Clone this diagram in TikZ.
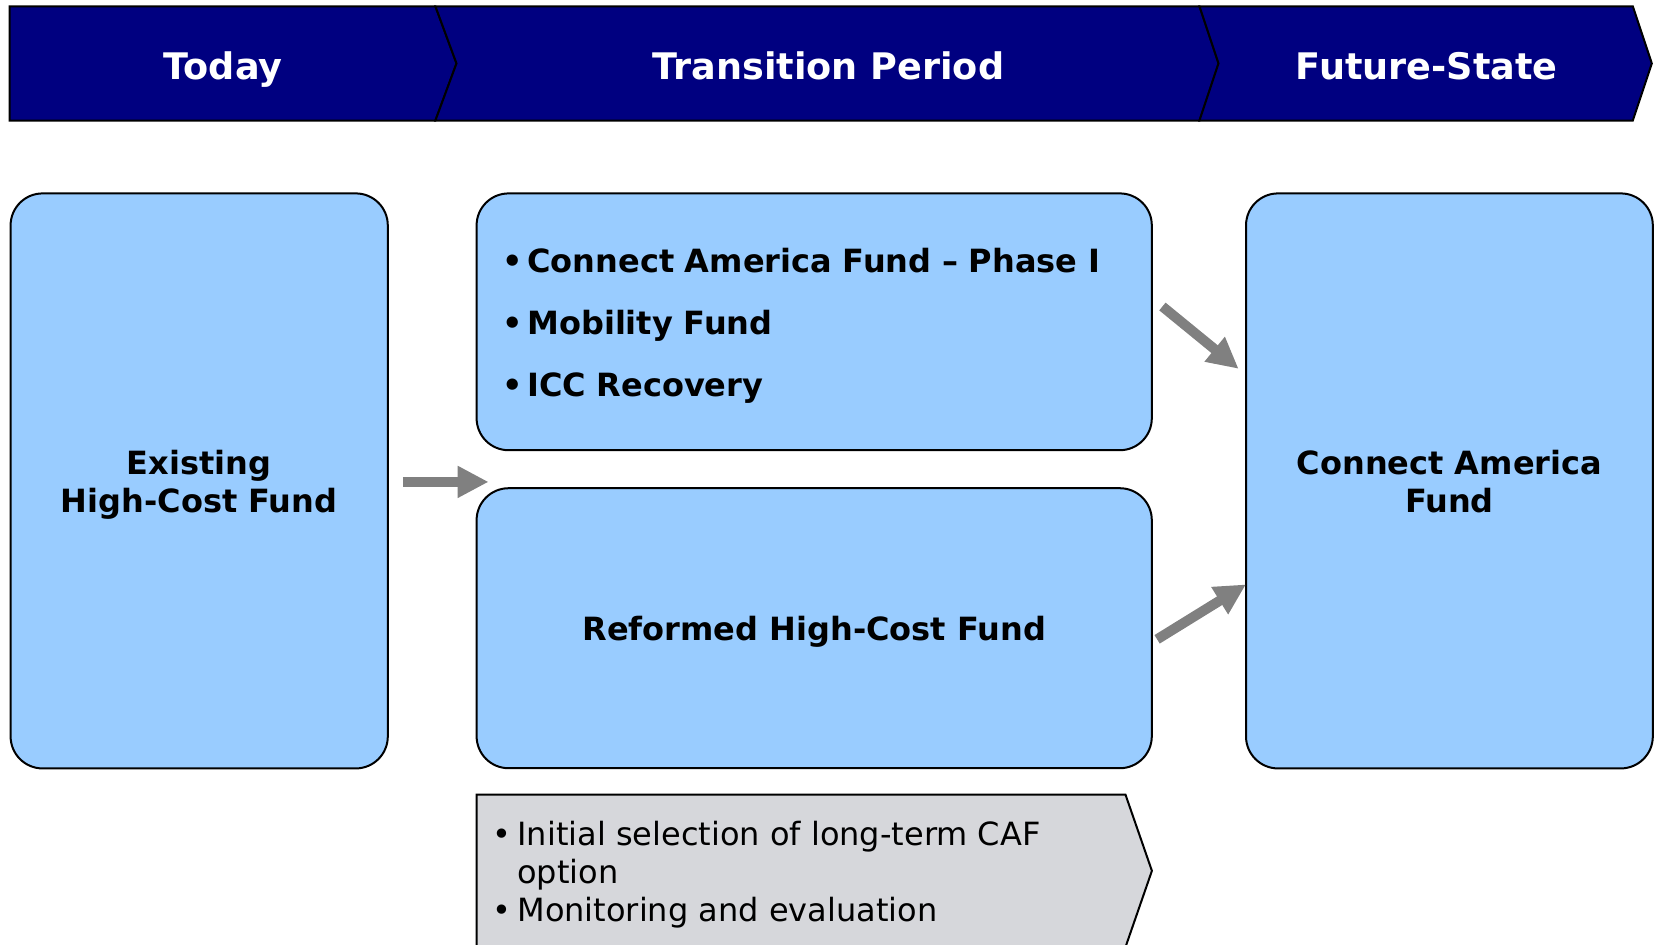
\documentclass[tikz,border=0pt]{standalone}
\usepackage{fontspec}
\setmainfont{DejaVu Sans}
\usepackage{tikz}
\usetikzlibrary{positioning}
\usetikzlibrary{calc}
\usetikzlibrary{arrows.meta}
\definecolor{bannerblue}{RGB}{0,0,128}
\definecolor{boxblue}{RGB}{153,204,255}
\definecolor{notegray}{RGB}{214,215,219}
\newcommand{\itm}{\makebox[12.5pt][l]{\textbullet}}
\tikzstyle{stage} = [text=white, anchor=base, font=\fontsize{18.3}{22}\selectfont\bfseries]
\tikzstyle{fund} = [draw, fill=boxblue, rounded corners=16pt, line width=1pt, inner sep=0pt, outer sep=0pt, text depth=0pt, align=center, font=\fontsize{16}{19}\selectfont\bfseries]
\tikzstyle{flow} = [draw=gray, line width=5pt, -{Triangle[length=15.5pt,width=15pt]}]

\begin{document}
\begin{tikzpicture}[x=0.5pt,y=-0.5pt]
    \useasboundingbox (0,0) rectangle (1657,944);
    \clip (0,0) rectangle (1657,944);

    % timeline
    \draw[fill=bannerblue, line width=1pt] (9.5,6.3) -- (435.4,6.3) -- (456.5,63.4) -- (435.4,120.5) -- (9.5,120.5) -- cycle;
    \draw[fill=bannerblue, line width=1pt] (435.4,6.3) -- (1199.5,6.3) -- (1218.5,63.4) -- (1199.5,120.5) -- (435.4,120.5) -- (456.5,63.4) -- cycle;
    \draw[fill=bannerblue, line width=1pt] (1199.5,6.3) -- (1632.8,6.3) -- (1651.8,63.4) -- (1632.8,120.5) -- (1199.5,120.5) -- (1218.5,63.4) -- cycle;
    \node[stage] (today) at (223,79) {Today};
    \node[stage] (transition) at (828.5,79) {Transition Period};
    \node[stage] (future) at (1426.7,79) {Future-State};

    \node[fund, minimum width=188.6pt, minimum height=287.5pt] (existing) at (199.2,480.9) {Existing\\High-Cost Fund};
    \node[fund, minimum width=337.6pt, minimum height=128.4pt, text width=311.9pt, text height=12pt, text depth=61pt, align=left, font=\fontsize{16}{31}\selectfont\bfseries] (phase) at (814.2,321.8)
        {\itm Connect America Fund -- Phase I\\ \itm Mobility Fund\\ \itm ICC Recovery};
    \node[fund, minimum width=337.6pt, minimum height=140pt, below=19pt of phase] (reformed) {Reformed High-Cost Fund};
    \node[fund, minimum width=203.4pt, minimum height=287.5pt] (caf) at (1449.4,480.9) {Connect America\\Fund};

    \draw[fill=notegray, line width=1pt] (476.6,794.7) -- (1125.5,794.7) -- (1151.9,870.8) -- (1125.5,947) -- (476.6,947) -- cycle;
    \node[anchor=north west, inner sep=0pt, align=left, font=\fontsize{16}{19}\selectfont] (steps) at (492,821)
        {\itm Initial selection of long-term CAF\\ \hphantom{\itm}option\\ \itm Monitoring and evaluation};

    \draw[flow] ($(existing.east)+(15,1)$) -- ($(existing.east -| reformed.west)+(12,1)$);
    \draw[flow] ($(phase.east)+(10.6,-15.3)$) -- ($(caf.west)+(-7.4,-112.1)$);
    \draw[flow] ($(reformed.east)+(5.3,11.1)$) -- ($(caf.west)+(0,103.5)$);
\end{tikzpicture}
\end{document}
